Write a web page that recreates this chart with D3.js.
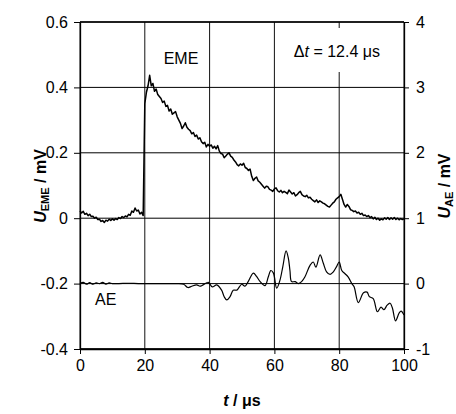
<!DOCTYPE html>
<html>
<head>
<meta charset="utf-8">
<script src="https://cdn.jsdelivr.net/npm/d3@7"></script>
<style>
body { margin: 0; background: #fff; }
text { font-family: Arial, "Liberation Sans", sans-serif; fill: #000; }
</style>
</head>
<body>
<script>
"use strict";

// x ticks / left (EME) ticks / right (AE) ticks
var timeTicks = [0, 20, 40, 60, 80, 100];
var emeTicks = [-0.4, -0.2, 0, 0.2, 0.4, 0.6];
var emeTickLabels = ["-0.4", "-0.2", "0", "0.2", "0.4", "0.6"];
var aeTicks = [-1, 0, 1, 2, 3, 4];
var aeTickLabels = ["-1", "0", "1", "2", "3", "4"];

// EME signal, mV, one sample every 0.5 us from t = 0
var emeStep = 0.5;
var emeValues = [
  0.022, 0.016, 0.021, 0.012, 0.015, 0.008, 0.012, 0.005, 0.006, 0.0,
  0.003, -0.004, -0.003, -0.010, -0.007, -0.013, -0.006, -0.009, -0.003, -0.007,
  -0.002, -0.006, -0.001, -0.004, 0.002, -0.001, 0.005, 0.002, 0.007, 0.004,
  0.012, 0.009, 0.022, 0.018, 0.031, 0.022, 0.025, 0.013, 0.018, 0.008,
  0.350, 0.385, 0.405, 0.437, 0.405, 0.412, 0.388, 0.395, 0.378, 0.372,
  0.366, 0.354, 0.358, 0.342, 0.345, 0.328, 0.334, 0.318, 0.322, 0.326,
  0.310, 0.300, 0.290, 0.274, 0.282, 0.292, 0.278, 0.272, 0.268, 0.258,
  0.262, 0.250, 0.254, 0.242, 0.246, 0.234, 0.228, 0.232, 0.218, 0.226,
  0.220, 0.224, 0.214, 0.220, 0.212, 0.222, 0.205, 0.198, 0.196, 0.185,
  0.190, 0.196, 0.200, 0.190, 0.186, 0.178, 0.172, 0.164, 0.160, 0.166,
  0.162, 0.168, 0.155, 0.152, 0.146, 0.150, 0.128, 0.115, 0.122, 0.126,
  0.114, 0.110, 0.104, 0.098, 0.092, 0.098, 0.096, 0.088, 0.086, 0.082,
  0.090, 0.093, 0.084, 0.080, 0.085, 0.078, 0.082, 0.079, 0.075, 0.086,
  0.080, 0.074, 0.078, 0.068, 0.072, 0.078, 0.082, 0.072, 0.068, 0.066,
  0.070, 0.062, 0.064, 0.058, 0.054, 0.050, 0.056, 0.048, 0.053, 0.050,
  0.046, 0.044, 0.040, 0.036, 0.034, 0.040, 0.046, 0.050, 0.058, 0.062,
  0.066, 0.073, 0.058, 0.042, 0.034, 0.042, 0.036, 0.026, 0.024, 0.020,
  0.022, 0.016, 0.018, 0.012, 0.015, 0.008, 0.010, 0.005, 0.008, 0.002,
  0.005, -0.002, 0.003, -0.004, 0.0, -0.006, -0.002, -0.005, 0.001, -0.003,
  0.002, -0.004, 0.001, -0.003, 0.002, -0.004, 0.0, -0.005, -0.001, -0.004,
  -0.002
];

// AE signal, mV (right axis)
var aeTime = [0, 1, 2, 3, 4, 5, 6, 7, 8, 9, 10, 12, 15, 18, 21, 24, 27, 30,
  32, 33.3, 34.5, 36, 37, 38, 39.6, 40.8, 42.2, 43.7,
  44.5, 45.3, 46.3, 47.3, 48.4, 49.9, 50.9, 51.9, 53.5, 54.5,
  55.6, 57.1, 58.1, 58.9, 59.7, 60.7, 61.7, 62.6, 63.6, 64.3,
  64.8, 65.3, 66.4, 67.4, 68.4, 69.4, 71.0, 72.0, 72.8, 74.1,
  75.1, 76.1, 77.2, 78.2, 79.2, 80.0, 80.8, 81.8, 82.8, 83.9,
  84.6, 85.9, 87.5, 88.6, 89.3, 90.5, 91.8, 92.9, 93.8, 94.8,
  95.7, 96.4, 97.4, 98.5, 99.1, 100];
var aeValue = [0, 0.02, -0.01, 0.015, -0.01, 0.01, 0, 0.02, -0.01, 0.01, 0, 0, 0.005, 0, 0, 0, 0, 0,
  -0.01, -0.06, -0.04, -0.02, -0.04, -0.02, 0.02, -0.05, -0.02, -0.1,
  -0.2, -0.25, -0.2, -0.1, -0.1, -0.01, -0.04, 0.03, 0.16, 0.11,
  0.03, -0.03, 0.1, 0.2, 0.16, -0.07, 0.05, 0.26, 0.5, 0.39,
  0.2, 0.03, 0.03, 0, 0.03, 0.1, 0.28, 0.33, 0.25, 0.44,
  0.31, 0.18, 0.14, 0.18, 0.26, 0.33, 0.2, 0.15, 0.1, 0,
  -0.05, -0.29, -0.14, -0.13, -0.2, -0.23, -0.43, -0.36, -0.4, -0.33,
  -0.3, -0.37, -0.57, -0.45, -0.42, -0.48];

var margin = {top: 22, right: 52, bottom: 65, left: 80},
    width = 456 - margin.left - margin.right,
    height = 414 - margin.top - margin.bottom;

var xScale = d3.scaleLinear().domain([0, 100]).range([0, width]);
var yEme = d3.scaleLinear().domain([-0.4, 0.6]).range([height, 0]);
var yAe = d3.scaleLinear().domain([-1, 4]).range([height, 0]);

var svg = d3.select("body").append("svg")
    .attr("width", 456)
    .attr("height", 414);

var view = svg.append("g")
    .attr("transform", "translate(" + margin.left + "," + margin.top + ")");

// gridlines
view.append("g").selectAll("line").data(timeTicks).enter().append("line")
    .attr("x1", function(d){ return xScale(d); })
    .attr("x2", function(d){ return xScale(d); })
    .attr("y1", 0).attr("y2", height)
    .attr("stroke", "#111").attr("stroke-width", 1);
view.append("g").selectAll("line").data(emeTicks).enter().append("line")
    .attr("x1", 0).attr("x2", width)
    .attr("y1", function(d){ return yEme(d); })
    .attr("y2", function(d){ return yEme(d); })
    .attr("stroke", "#000").attr("stroke-width", 1);

// white box behind the delta-t note
view.append("rect")
    .attr("x", 205).attr("y", 6)
    .attr("width", 112).attr("height", 44)
    .attr("fill", "#fff");

// axes
var xAxis = d3.axisBottom(xScale).tickValues(timeTicks).tickSizeInner(5).tickSizeOuter(0).tickPadding(6)
    .tickFormat(function(d){ return String(d); });
var yAxisL = d3.axisLeft(yEme).tickValues(emeTicks).tickSizeInner(6).tickSizeOuter(0).tickPadding(6)
    .tickFormat(function(d, i){ return emeTickLabels[i]; });
var yAxisR = d3.axisRight(yAe).tickValues(aeTicks).tickSizeInner(5).tickSizeOuter(0).tickPadding(7)
    .tickFormat(function(d, i){ return aeTickLabels[i]; });

function styleAxis(g){
  g.selectAll("path").attr("stroke", "#000").attr("stroke-width", 1.3);
  g.selectAll("line").attr("stroke", "#000");
  g.selectAll("text").style("font-size", "16px").style("font-family", "Arial, 'Liberation Sans', sans-serif");
}

view.append("g").attr("transform", "translate(0," + height + ")").call(xAxis).call(styleAxis);
view.append("g").call(yAxisL).call(styleAxis);
view.append("g").attr("transform", "translate(" + width + ",0)").call(yAxisR).call(styleAxis);

// top / bottom frame
view.append("line").attr("x1", 0).attr("x2", width).attr("y1", 0).attr("y2", 0)
    .attr("stroke", "#000").attr("stroke-width", 1.6);
view.append("line").attr("x1", 0).attr("x2", width).attr("y1", height).attr("y2", height)
    .attr("stroke", "#000").attr("stroke-width", 1.6);

// series
var emeLine = d3.line()
    .x(function(d, i){ return xScale(i * emeStep); })
    .y(function(d){ return yEme(d); });
view.append("path")
    .datum(emeValues)
    .attr("d", emeLine)
    .attr("fill", "none").attr("stroke", "#000").attr("stroke-width", 1.5)
    .attr("stroke-linejoin", "round");

var aeLine = d3.line()
    .curve(d3.curveCatmullRom.alpha(0.5))
    .x(function(d){ return xScale(d[0]); })
    .y(function(d){ return yAe(d[1]); });
view.append("path")
    .datum(aeTime.map(function(t, i){ return [t, aeValue[i]]; }))
    .attr("d", aeLine)
    .attr("fill", "none").attr("stroke", "#000").attr("stroke-width", 1.2)
    .attr("stroke-linejoin", "round");

// notes
svg.append("text").attr("x", 181).attr("y", 64).attr("text-anchor", "middle")
    .style("font-size", "16px").text("EME");
svg.append("text").attr("x", 95).attr("y", 305)
    .style("font-size", "16px").text("AE");
var dt = svg.append("text").attr("x", 380).attr("y", 57).attr("text-anchor", "end")
    .style("font-size", "16px");
dt.append("tspan").text("\u0394");
dt.append("tspan").style("font-style", "italic").text("t");
dt.append("tspan").text(" = 12.4 \u03bcs");

// axis titles
var xt = svg.append("text").attr("x", 242).attr("y", 406).attr("text-anchor", "middle")
    .style("font-size", "16px").style("font-weight", "bold");
xt.append("tspan").style("font-style", "italic").text("t");
xt.append("tspan").text(" / \u03bcs");

function axisTitle(x, sub){
  var t = svg.append("text")
      .attr("transform", "translate(" + x + ",186) rotate(-90)")
      .attr("text-anchor", "middle")
      .style("font-size", "16px").style("font-weight", "bold");
  t.append("tspan").style("font-style", "italic").text("U");
  t.append("tspan").attr("dy", 3).style("font-size", "11px").text(sub);
  t.append("tspan").attr("dy", -3).text(" / mV");
}
axisTitle(46, "EME");
axisTitle(450, "AE");
</script>
</body>
</html>
